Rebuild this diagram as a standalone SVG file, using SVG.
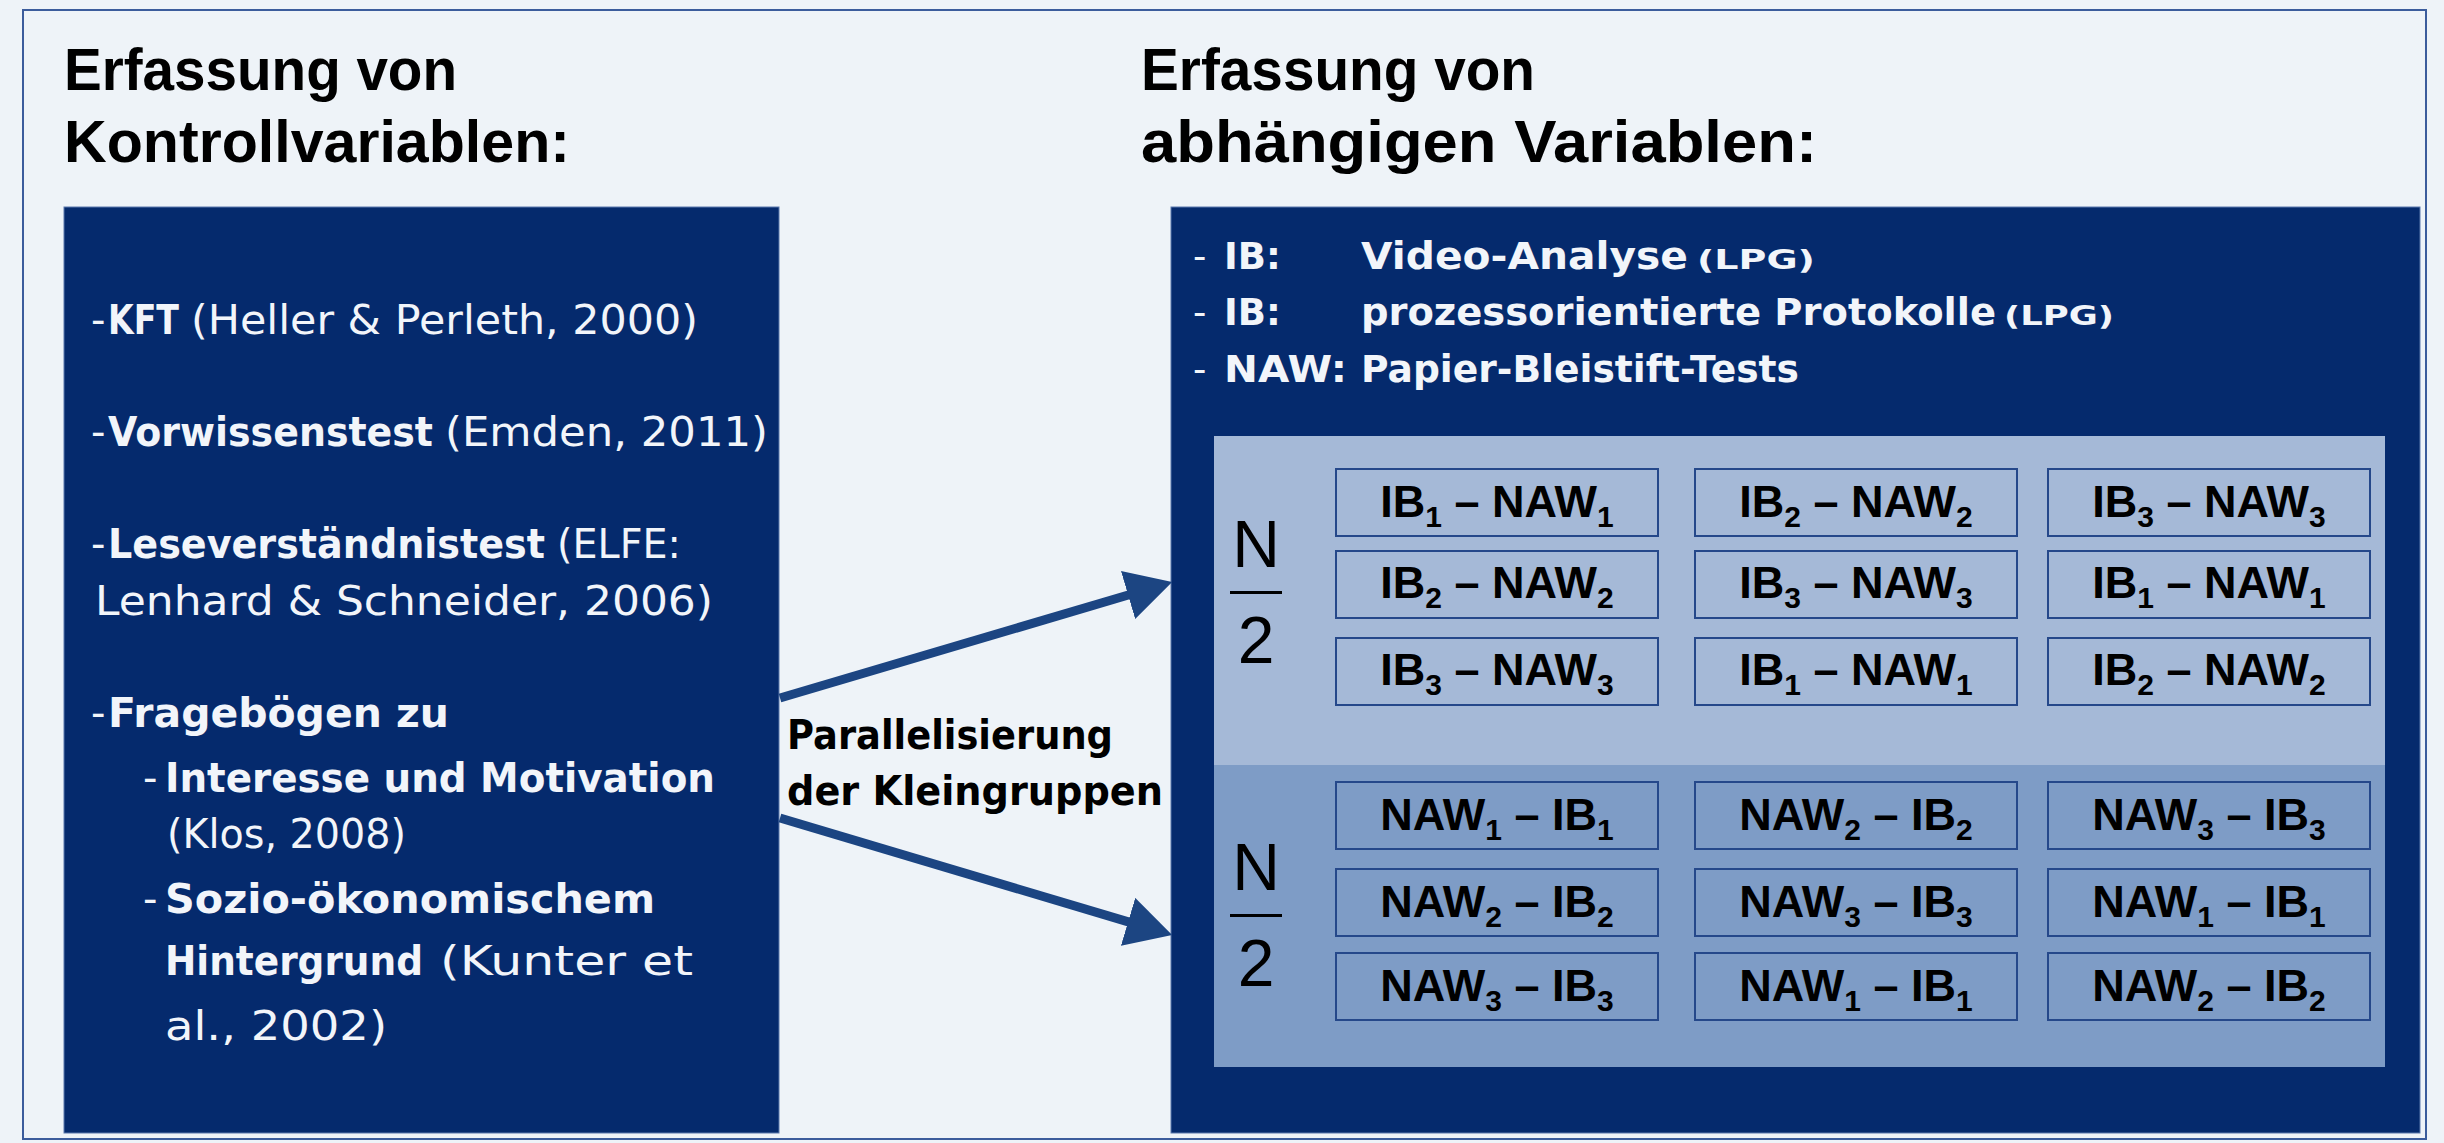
<svg xmlns="http://www.w3.org/2000/svg" width="2444" height="1143" viewBox="0 0 2444 1143">
<defs>
<style>
.title{font-family:"Liberation Sans",Arial,sans-serif;font-weight:bold;font-size:60px;fill:#000}
.box{fill:#052a6d;stroke:#5a78ad;stroke-width:1}
.lt{font-family:"DejaVu Sans",sans-serif;font-size:40px;fill:#f2f5fa}
.b{font-weight:bold}
.rt{font-family:"DejaVu Sans",sans-serif;font-weight:bold;font-size:37px;fill:#f2f5fa}
.rd{font-family:"DejaVu Sans",sans-serif;font-size:37px;fill:#f2f5fa}
.sm{font-size:27px}
.cell rect{fill:none;stroke:#25488a;stroke-width:2}
.cell text{font-family:"Liberation Sans",Arial,sans-serif;font-weight:bold;font-size:45px;fill:#000;text-anchor:middle}
.sub{font-size:30px}
.frac{font-family:"Liberation Sans",Arial,sans-serif;font-size:66px;fill:#000;text-anchor:middle}
.conn{stroke:#1c4582;stroke-width:9;fill:none}
.lbl{font-family:"DejaVu Sans",sans-serif;font-weight:bold;font-size:40px;fill:#000}
</style>
<marker id="ah" markerUnits="userSpaceOnUse" viewBox="0 0 46 50" refX="2" refY="25" markerWidth="46" markerHeight="50" orient="auto"><path d="M0,0 L46,25 L0,50 z" fill="#1c4582"/></marker>
</defs>
<rect x="0" y="0" width="2444" height="1143" fill="#eef3f8"/>
<rect x="23" y="10" width="2403" height="1129" fill="none" stroke="#3b5c9c" stroke-width="2"/>

<g id="title-left">
<text class="title" x="64" y="90" textLength="393" lengthAdjust="spacingAndGlyphs">Erfassung von</text>
<text class="title" x="64" y="162" textLength="506" lengthAdjust="spacingAndGlyphs">Kontrollvariablen:</text>
</g>
<g id="title-right">
<text class="title" x="1141" y="90" textLength="394" lengthAdjust="spacingAndGlyphs">Erfassung von</text>
<text class="title" x="1141" y="162" textLength="676" lengthAdjust="spacingAndGlyphs">abhängigen Variablen:</text>
</g>

<g id="kontrollvariablen">
<rect class="box" x="64" y="207" width="715" height="926"/>
<text class="lt" x="91" y="334">-</text>
<text class="lt b" x="108" y="334" textLength="71" lengthAdjust="spacingAndGlyphs">KFT</text>
<text class="lt" x="191" y="334" textLength="507" lengthAdjust="spacingAndGlyphs">(Heller &amp; Perleth, 2000)</text>
<text class="lt" x="91" y="446">-</text>
<text class="lt b" x="108" y="446" textLength="325" lengthAdjust="spacingAndGlyphs">Vorwissenstest</text>
<text class="lt" x="445" y="446" textLength="323" lengthAdjust="spacingAndGlyphs">(Emden, 2011)</text>
<text class="lt" x="91" y="558">-</text>
<text class="lt b" x="108" y="558" textLength="437" lengthAdjust="spacingAndGlyphs">Leseverständnistest</text>
<text class="lt" x="557" y="558" textLength="124" lengthAdjust="spacingAndGlyphs">(ELFE:</text>
<text class="lt" x="95" y="615" textLength="618" lengthAdjust="spacingAndGlyphs">Lenhard &amp; Schneider, 2006)</text>
<text class="lt" x="91" y="727">-</text>
<text class="lt b" x="108" y="727" textLength="341" lengthAdjust="spacingAndGlyphs">Fragebögen zu</text>
<text class="lt" x="143" y="792">-</text>
<text class="lt b" x="165" y="792" textLength="550" lengthAdjust="spacingAndGlyphs">Interesse und Motivation</text>
<text class="lt" x="167" y="848" textLength="239" lengthAdjust="spacingAndGlyphs">(Klos, 2008)</text>
<text class="lt" x="143" y="913">-</text>
<text class="lt b" x="165" y="913" textLength="490" lengthAdjust="spacingAndGlyphs">Sozio-ökonomischem</text>
<text class="lt b" x="165" y="975" textLength="258" lengthAdjust="spacingAndGlyphs">Hintergrund</text>
<text class="lt" x="440" y="975" textLength="253" lengthAdjust="spacingAndGlyphs">(Kunter et</text>
<text class="lt" x="165" y="1040" textLength="222" lengthAdjust="spacingAndGlyphs">al., 2002)</text>
</g>

<g id="abhaengige-variablen">
<rect class="box" x="1171" y="207" width="1249" height="926"/>
<text class="rd" x="1193" y="269">-</text>
<text class="rt" x="1224" y="269">IB:</text>
<text class="rt" x="1361" y="269" textLength="327" lengthAdjust="spacingAndGlyphs">Video-Analyse</text>
<text class="rt sm" x="1697" y="269" textLength="118" lengthAdjust="spacingAndGlyphs">(LPG)</text>
<text class="rd" x="1193" y="325">-</text>
<text class="rt" x="1224" y="325">IB:</text>
<text class="rt" x="1361" y="325" textLength="635" lengthAdjust="spacingAndGlyphs">prozessorientierte Protokolle</text>
<text class="rt sm" x="2004" y="325" textLength="110" lengthAdjust="spacingAndGlyphs">(LPG)</text>
<text class="rd" x="1193" y="382">-</text>
<text class="rt" x="1224" y="382" textLength="123" lengthAdjust="spacingAndGlyphs">NAW:</text>
<text class="rt" x="1361" y="382" textLength="438" lengthAdjust="spacingAndGlyphs">Papier-Bleistift-Tests</text>
</g>

<g id="gruppe-ib-zuerst">
<rect x="1214" y="436" width="1171" height="329" fill="#a5b9d7"/>
<text class="frac" x="1256" y="567">N</text>
<rect x="1230" y="591" width="52" height="3" fill="#000"/>
<text class="frac" x="1256" y="663">2</text>
</g>
<g id="gruppe-naw-zuerst">
<rect x="1214" y="765" width="1171" height="302" fill="#7e9cc6"/>
<text class="frac" x="1256" y="890">N</text>
<rect x="1230" y="914" width="52" height="3" fill="#000"/>
<text class="frac" x="1256" y="986">2</text>
</g>

<g id="cell-u11" class="cell"><rect x="1336" y="469" width="322" height="67"/><text x="1497" y="517">IB<tspan class="sub" dy="10">1</tspan><tspan dy="-10"> – NAW</tspan><tspan class="sub" dy="10">1</tspan></text></g>
<g id="cell-u12" class="cell"><rect x="1695" y="469" width="322" height="67"/><text x="1856" y="517">IB<tspan class="sub" dy="10">2</tspan><tspan dy="-10"> – NAW</tspan><tspan class="sub" dy="10">2</tspan></text></g>
<g id="cell-u13" class="cell"><rect x="2048" y="469" width="322" height="67"/><text x="2209" y="517">IB<tspan class="sub" dy="10">3</tspan><tspan dy="-10"> – NAW</tspan><tspan class="sub" dy="10">3</tspan></text></g>
<g id="cell-u21" class="cell"><rect x="1336" y="551" width="322" height="67"/><text x="1497" y="598">IB<tspan class="sub" dy="10">2</tspan><tspan dy="-10"> – NAW</tspan><tspan class="sub" dy="10">2</tspan></text></g>
<g id="cell-u22" class="cell"><rect x="1695" y="551" width="322" height="67"/><text x="1856" y="598">IB<tspan class="sub" dy="10">3</tspan><tspan dy="-10"> – NAW</tspan><tspan class="sub" dy="10">3</tspan></text></g>
<g id="cell-u23" class="cell"><rect x="2048" y="551" width="322" height="67"/><text x="2209" y="598">IB<tspan class="sub" dy="10">1</tspan><tspan dy="-10"> – NAW</tspan><tspan class="sub" dy="10">1</tspan></text></g>
<g id="cell-u31" class="cell"><rect x="1336" y="638" width="322" height="67"/><text x="1497" y="685">IB<tspan class="sub" dy="10">3</tspan><tspan dy="-10"> – NAW</tspan><tspan class="sub" dy="10">3</tspan></text></g>
<g id="cell-u32" class="cell"><rect x="1695" y="638" width="322" height="67"/><text x="1856" y="685">IB<tspan class="sub" dy="10">1</tspan><tspan dy="-10"> – NAW</tspan><tspan class="sub" dy="10">1</tspan></text></g>
<g id="cell-u33" class="cell"><rect x="2048" y="638" width="322" height="67"/><text x="2209" y="685">IB<tspan class="sub" dy="10">2</tspan><tspan dy="-10"> – NAW</tspan><tspan class="sub" dy="10">2</tspan></text></g>

<g id="cell-l11" class="cell"><rect x="1336" y="782" width="322" height="67"/><text x="1497" y="830">NAW<tspan class="sub" dy="10">1</tspan><tspan dy="-10"> – IB</tspan><tspan class="sub" dy="10">1</tspan></text></g>
<g id="cell-l12" class="cell"><rect x="1695" y="782" width="322" height="67"/><text x="1856" y="830">NAW<tspan class="sub" dy="10">2</tspan><tspan dy="-10"> – IB</tspan><tspan class="sub" dy="10">2</tspan></text></g>
<g id="cell-l13" class="cell"><rect x="2048" y="782" width="322" height="67"/><text x="2209" y="830">NAW<tspan class="sub" dy="10">3</tspan><tspan dy="-10"> – IB</tspan><tspan class="sub" dy="10">3</tspan></text></g>
<g id="cell-l21" class="cell"><rect x="1336" y="869" width="322" height="67"/><text x="1497" y="917">NAW<tspan class="sub" dy="10">2</tspan><tspan dy="-10"> – IB</tspan><tspan class="sub" dy="10">2</tspan></text></g>
<g id="cell-l22" class="cell"><rect x="1695" y="869" width="322" height="67"/><text x="1856" y="917">NAW<tspan class="sub" dy="10">3</tspan><tspan dy="-10"> – IB</tspan><tspan class="sub" dy="10">3</tspan></text></g>
<g id="cell-l23" class="cell"><rect x="2048" y="869" width="322" height="67"/><text x="2209" y="917">NAW<tspan class="sub" dy="10">1</tspan><tspan dy="-10"> – IB</tspan><tspan class="sub" dy="10">1</tspan></text></g>
<g id="cell-l31" class="cell"><rect x="1336" y="953" width="322" height="67"/><text x="1497" y="1001">NAW<tspan class="sub" dy="10">3</tspan><tspan dy="-10"> – IB</tspan><tspan class="sub" dy="10">3</tspan></text></g>
<g id="cell-l32" class="cell"><rect x="1695" y="953" width="322" height="67"/><text x="1856" y="1001">NAW<tspan class="sub" dy="10">1</tspan><tspan dy="-10"> – IB</tspan><tspan class="sub" dy="10">1</tspan></text></g>
<g id="cell-l33" class="cell"><rect x="2048" y="953" width="322" height="67"/><text x="2209" y="1001">NAW<tspan class="sub" dy="10">2</tspan><tspan dy="-10"> – IB</tspan><tspan class="sub" dy="10">2</tspan></text></g>

<g id="connectors">
<line class="conn" x1="780" y1="698" x2="1130" y2="594.5" marker-end="url(#ah)"/>
<line class="conn" x1="780" y1="818" x2="1130" y2="922.4" marker-end="url(#ah)"/>
<text class="lbl" x="787" y="749" textLength="326" lengthAdjust="spacingAndGlyphs">Parallelisierung</text>
<text class="lbl" x="787" y="805" textLength="376" lengthAdjust="spacingAndGlyphs">der Kleingruppen</text>
</g>
</svg>
